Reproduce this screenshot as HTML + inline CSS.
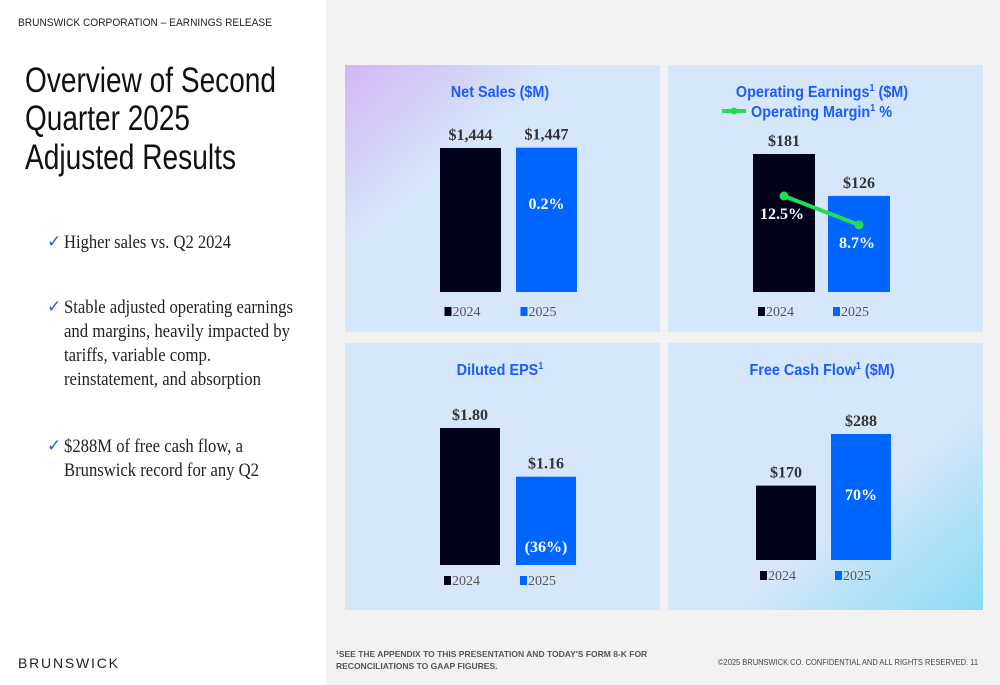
<!DOCTYPE html>
<html><head><meta charset="utf-8">
<style>
body{margin:0;width:1000px;height:685px;overflow:hidden;background:#fff;font-family:"Liberation Sans",sans-serif}
svg{display:block}
.ser{font-family:"Liberation Serif",serif}
</style></head><body>
<svg width="1000" height="685" viewBox="0 0 1000 685" xmlns="http://www.w3.org/2000/svg">
<defs>
<linearGradient id="gNS" x1="0" y1="0" x2="1" y2="1">
<stop offset="0" stop-color="#d2b6f4"/><stop offset="0.35" stop-color="#d6e6fb"/><stop offset="1" stop-color="#d6e6fb"/>
</linearGradient>
<linearGradient id="gFCF" x1="0" y1="0" x2="1" y2="1">
<stop offset="0" stop-color="#d6e6fb"/><stop offset="0.6" stop-color="#d6e6fb"/><stop offset="1" stop-color="#8adcf3"/>
</linearGradient>
</defs>
<rect x="326" y="0" width="674" height="685" fill="#f2f2f2"/>
<text x="18" y="26" font-size="11" fill="#222" textLength="254" lengthAdjust="spacingAndGlyphs">BRUNSWICK CORPORATION – EARNINGS RELEASE</text>
<g font-size="35" fill="#111">
<text x="25" y="92" textLength="251" lengthAdjust="spacingAndGlyphs">Overview of Second</text>
<text x="25" y="130" textLength="165" lengthAdjust="spacingAndGlyphs">Quarter 2025</text>
<text x="25" y="169" textLength="211" lengthAdjust="spacingAndGlyphs">Adjusted Results</text>
</g>
<g class="ser" font-size="19" fill="#222">
<text x="47" y="247" fill="#1a5cff" font-family="DejaVu Sans" font-size="17">✓</text>
<text x="64" y="248" textLength="167" lengthAdjust="spacingAndGlyphs">Higher sales vs. Q2 2024</text>
<text x="47" y="312" fill="#1a5cff" font-family="DejaVu Sans" font-size="17">✓</text>
<text x="64" y="313" textLength="229" lengthAdjust="spacingAndGlyphs">Stable adjusted operating earnings</text>
<text x="64" y="337" textLength="226" lengthAdjust="spacingAndGlyphs">and margins, heavily impacted by</text>
<text x="64" y="361" textLength="147" lengthAdjust="spacingAndGlyphs">tariffs, variable comp.</text>
<text x="64" y="385" textLength="197" lengthAdjust="spacingAndGlyphs">reinstatement, and absorption</text>
<text x="47" y="451" fill="#1a5cff" font-family="DejaVu Sans" font-size="17">✓</text>
<text x="64" y="452" textLength="179" lengthAdjust="spacingAndGlyphs">$288M of free cash flow, a</text>
<text x="64" y="476" textLength="195" lengthAdjust="spacingAndGlyphs">Brunswick record for any Q2</text>
</g>
<text x="18" y="668" font-size="14" fill="#222" letter-spacing="1.8">BRUNSWICK</text>
<g font-size="8.5" font-weight="bold" fill="#555">
<text x="336" y="657">¹SEE THE APPENDIX TO THIS PRESENTATION AND TODAY'S FORM 8-K FOR</text>
<text x="336" y="669">RECONCILIATIONS TO GAAP FIGURES.</text>
</g>
<text x="718" y="665" font-size="8" fill="#444" textLength="260" lengthAdjust="spacingAndGlyphs">©2025 BRUNSWICK CO. CONFIDENTIAL AND ALL RIGHTS RESERVED.    11</text>
<g id="charts"></g>
</svg>
<script>
const years = ["2024", "2025"];
const netSales = [1444, 1447];
const netSalesLabels = ["$1,444", "$1,447"];
const opEarnings = [181, 126];
const opEarningsLabels = ["$181", "$126"];
const opMargin = [12.5, 8.7];
const opMarginLabels = ["12.5%", "8.7%"];
const eps = [1.80, 1.16];
const epsLabels = ["$1.80", "$1.16"];
const fcf = [170, 288];
const fcfLabels = ["$170", "$288"];
const ns = "http://www.w3.org/2000/svg";
const root = document.getElementById("charts");
function mk(tag, attrs, parent){const e=document.createElementNS(ns,tag);for(const k in attrs)e.setAttribute(k,attrs[k]);(parent||root).appendChild(e);return e;}
const colors=["#02021a","#0066ff"];
function chart(cfg){
  const g=mk("g",{});
  
  
  const p=mk("rect",{x:cfg.px,y:cfg.py,width:315,height:267,fill:cfg.fill},g);
  
  
  const y=v=>cfg.base-v*cfg.scale;
  cfg.values.forEach((v,i)=>{
    const x=cfg.xs[i];
    const r=mk("rect",{x:x,y:y(v),width:cfg.bw,height:cfg.base-y(v),fill:colors[i]},g);
    
    
    const t=mk("text",{x:x+cfg.bw/2,y:y(v)-8,"text-anchor":"middle","font-size":"16","font-weight":"bold",fill:"#333","font-family":"Liberation Serif, serif"},g);
    t.textContent=cfg.labels[i];
    
    
    const lx=x+cfg.bw/2-26;
    const sq=mk("rect",{x:lx,y:cfg.legY-9,width:7,height:9,fill:colors[i]},g);
    
    
    const lt=mk("text",{x:lx+8,y:cfg.legY,"font-size":"14",fill:"#555","font-family":"Liberation Serif, serif"},g);
    lt.textContent=years[i];
    
    
  });
  if(cfg.inner){const t=mk("text",{x:cfg.xs[1]+cfg.bw/2,y:cfg.innerY,"text-anchor":"middle","font-size":"16","font-weight":"bold",fill:"#fff","font-family":"Liberation Serif, serif"},g);
    t.textContent=cfg.inner;}
  cfg.title.forEach((s,i)=>{const t=mk("text",{x:cfg.tx,y:cfg.py+32+i*21,"text-anchor":"middle","font-size":"16","font-weight":"bold",fill:"#1a5cff",transform:"translate("+cfg.tx+",0) scale(0.9,1) translate("+(-cfg.tx)+",0)"},g);
    t.innerHTML=s;});
  return {g,y};
}
chart({name:"net-sales-chart",px:345,py:65,fill:"url(#gNS)",values:netSales,labels:netSalesLabels,xs:[440,516],bw:61,base:292,scale:144/1444,legY:316,title:["Net Sales ($M)"],tx:500,inner:"0.2%",innerY:209});
const oe=chart({name:"operating-earnings-chart",px:668,py:65,fill:"#d6e6fb",values:opEarnings,labels:opEarningsLabels,xs:[753,828],bw:62,base:292,scale:138/181,legY:316,title:["Operating Earnings<tspan font-size='10' dy='-6'>1</tspan><tspan dy='6'> ($M)</tspan>"],tx:822});
(function(){const g=oe.g;
 const t=mk("text",{x:751,y:117,"font-size":"16","font-weight":"bold",fill:"#1a5cff",transform:"translate(751,0) scale(0.9,1) translate(-751,0)"},g);
 t.innerHTML="Operating Margin<tspan font-size='10' dy='-6'>1</tspan><tspan dy='6'> %</tspan>";
 
 const l=mk("line",{x1:722,y1:111,x2:746,y2:111,stroke:"#22dd55","stroke-width":4},g);
 
 const c=mk("circle",{cx:734,cy:111,r:3.5,fill:"#22dd55"},g);
 
 const my=v=>291-v*7.6; const mx=[784,859];
 const pl=mk("polyline",{points:opMargin.map((v,i)=>mx[i]+","+my(v)).join(" "),fill:"none",stroke:"#22dd55","stroke-width":4},g);
 
 opMargin.forEach((v,i)=>{const p=mk("circle",{cx:mx[i],cy:my(v),r:4.5,fill:"#22dd55"},g);
  
  const t=mk("text",{x:mx[i]-2,y:my(v)+23,"text-anchor":"middle","font-size":"16","font-weight":"bold",fill:"#fff","font-family":"Liberation Serif, serif"},g);
  t.textContent=opMarginLabels[i];});
})();
chart({name:"diluted-eps-chart",px:345,py:343,fill:"#d6e6fb",values:eps,labels:epsLabels,xs:[440,516],bw:60,base:565,scale:137/1.80,legY:585,title:["Diluted EPS<tspan font-size='10' dy='-6'>1</tspan>"],tx:500,inner:"(36%)",innerY:552});
chart({name:"free-cash-flow-chart",px:668,py:343,fill:"url(#gFCF)",values:fcf,labels:fcfLabels,xs:[756,831],bw:60,base:560,scale:126/288,legY:580,title:["Free Cash Flow<tspan font-size='10' dy='-6'>1</tspan><tspan dy='6'> ($M)</tspan>"],tx:822,inner:"70%",innerY:500});
</script>
</body></html>
